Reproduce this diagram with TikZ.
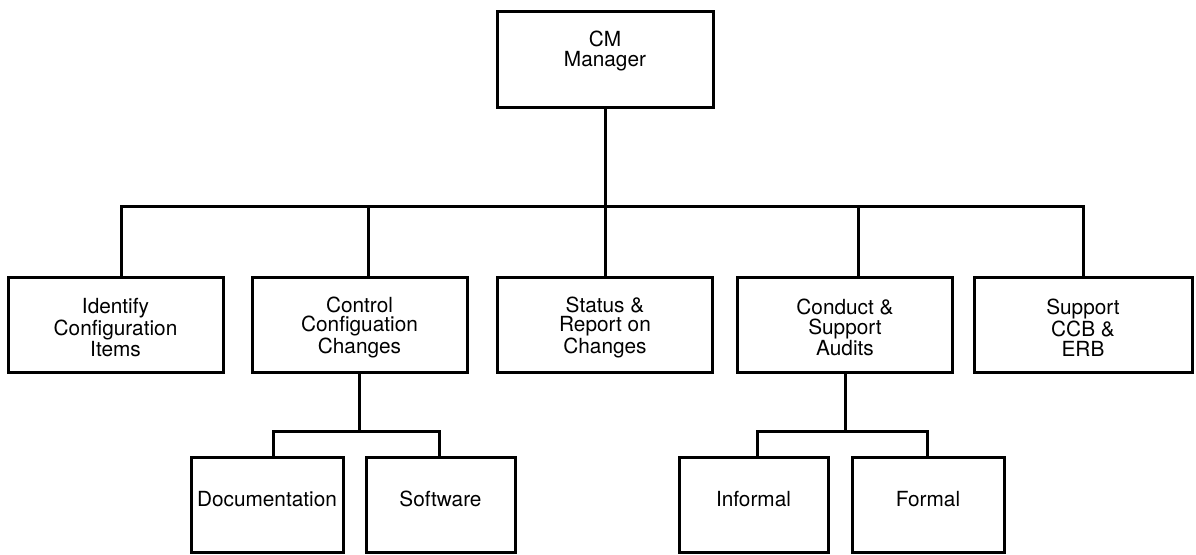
\documentclass[tikz,border=0pt]{standalone}
\usepackage{fontspec}
\setmainfont{TeX Gyre Heros}
\usetikzlibrary{calc}
\begin{document}
\begin{tikzpicture}[x=0.5pt,y=-0.5pt,
  box/.style={draw,line width=1.5pt,inner sep=0pt,minimum height=47.5pt},
  wide/.style={box,minimum width=107.5pt},
  narrow/.style={box,minimum width=75pt},
  txt/.style={align=center,inner sep=0pt,font=\fontsize{10.4}{9.75}\selectfont},
  link/.style={line width=1.5pt}]
\useasboundingbox (0,0) rectangle (1196,554);

% top
\node[box,minimum width=108pt,minimum height=48pt] (cm) at (605,59) {};
\node[txt] (cmt) at ($(cm.center)+(0,-8)$) {CM\\Manager};

% second level
\node[wide] (b1) at (115.5,324.5) {};
\node[wide] (b2) at (359.5,324.5) {};
\node[wide] (b3) at (605,324.5) {};
\node[wide] (b4) at (845,324.5) {};
\node[wide,minimum width=109pt] (b5) at (1083,324.5) {};
\node[txt] (b1t) at ($(b1.center)+(0,3)$) {Identify\\Configuration\\Items};
\node[txt] (b2t) at ($(b2.center)+(0,3)$) {Control\\Configuation\\Changes};
\node[txt] (b3t) at ($(b3.center)+(0,3)$) {Status \&\\Report on\\Changes};
\node[txt] (b4t) at ($(b4.center)+(0,3)$) {Conduct \&\\Support\\Audits};
\node[txt] (b5t) at ($(b5.center)+(0,3)$) {Support\\CCB \&\\ERB};

% third level
\node[narrow,minimum width=76pt] (doc) at (267,505) {};
\node[narrow,minimum width=74.5pt] (sw) at (440.5,505) {};
\node[narrow,minimum width=74.5pt] (inf) at (753.5,505) {};
\node[narrow,minimum width=76pt] (frm) at (928,505) {};
\node[txt] (doct) at ($(doc.center)+(0,-6)$) {Documentation};
\node[txt] (swt) at ($(sw.center)+(0,-6)$) {Software};
\node[txt] (inft) at ($(inf.center)+(0,-6)$) {Informal};
\node[txt] (frmt) at ($(frm.center)+(0,-6)$) {Formal};

% main bus
\coordinate (j) at ($(cm.south)+(0,98)$);
\coordinate (v1) at ($(b1.north)+(5.5,0)$);
\coordinate (v2) at ($(b2.north)+(8.5,0)$);
\coordinate (v4) at ($(b4.north)+(13,0)$);
\draw[link] (cm) -- (b3);
\draw[link] (v1) |- (j -| b5.north) -- (b5.north);
\draw[link] (v2) -- (v2 |- j);
\draw[link] (v4) -- (v4 |- j);

% sub buses
\coordinate (k2) at ($(b2.south)+(0,57.5)$);
\coordinate (k4) at ($(b4.south)+(0,57.5)$);
\coordinate (d1) at ($(doc.north)+(6,0)$);
\coordinate (d2) at ($(sw.north)+(-1.5,0)$);
\coordinate (d3) at ($(inf.north)+(3.5,0)$);
\coordinate (d4) at ($(frm.north)+(-1,0)$);
\draw[link] (b2.south) -- (k2);
\draw[link] (d1) |- (k2) -| (d2);
\draw[link] (b4.south) -- (k4);
\draw[link] (d3) |- (k4) -| (d4);
\end{tikzpicture}
\end{document}
